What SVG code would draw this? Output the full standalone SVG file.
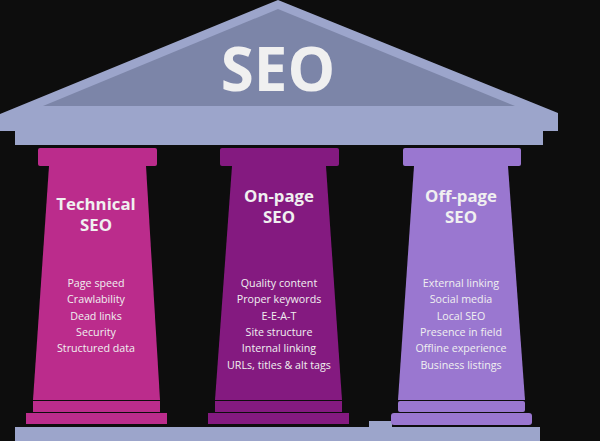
<svg xmlns="http://www.w3.org/2000/svg" width="600" height="441" viewBox="0 0 600 441">
<style>
.roof{fill:#9ca5cb}
.tri{fill:#7c85a8}
.t{font-family:"Open Sans",sans-serif;fill:#f0f0f0;text-anchor:middle}
.h{font-size:16.8px;font-weight:700}
.i{font-size:10.7px}
.a{fill:#bb2c8c}
.b{fill:#841a80}
.c{fill:#9a77d0}
</style>
<rect width="600" height="441" fill="#0d0d0d"/>
<g id="base">
<path class="roof" d="M15 427H369V421H392V427H540V441H15Z"/>
</g>
<g id="roof">
<path class="roof" d="M0 114L278 0L558 113V131H543V145H15V131H0Z"/>
<path class="tri" d="M278 9L515 106H43Z"/>
<text class="t" x="278" y="91" font-size="60" font-weight="700">SEO</text>
</g>
<g id="technical">
<rect class="a" x="38" y="148" width="119" height="18" rx="2"/>
<path class="a" d="M49 166H146L160 400H33Z"/>
<rect class="a" x="33" y="401" width="127" height="11"/>
<rect class="a" x="26" y="413" width="141" height="11"/>
<text class="t h" x="96" y="210">Technical</text>
<text class="t h" x="96" y="231">SEO</text>
<text class="t i" x="96" y="287">Page speed</text>
<text class="t i" x="96" y="303">Crawlability</text>
<text class="t i" x="96" y="320">Dead links</text>
<text class="t i" x="96" y="336">Security</text>
<text class="t i" x="96" y="352">Structured data</text>
</g>
<g id="onpage">
<rect class="b" x="220" y="148" width="119" height="18" rx="2"/>
<path class="b" d="M232 166H326L342 400H215Z"/>
<rect class="b" x="215" y="401" width="127" height="11"/>
<rect class="b" x="208" y="413" width="141" height="11"/>
<text class="t h" x="279" y="202">On-page</text>
<text class="t h" x="279" y="223">SEO</text>
<text class="t i" x="279" y="287">Quality content</text>
<text class="t i" x="279" y="303">Proper keywords</text>
<text class="t i" x="279" y="320">E-E-A-T</text>
<text class="t i" x="279" y="336">Site structure</text>
<text class="t i" x="279" y="352">Internal linking</text>
<text class="t i" x="279" y="369">URLs, titles &amp; alt tags</text>
</g>
<g id="offpage">
<rect class="c" x="403" y="148" width="118" height="18" rx="2"/>
<path class="c" d="M414 166H508L525 400H398Z"/>
<rect class="c" x="398" y="401" width="127" height="11" rx="2"/>
<rect class="c" x="391" y="413" width="141" height="12" rx="3"/>
<text class="t h" x="461" y="202">Off-page</text>
<text class="t h" x="461" y="223">SEO</text>
<text class="t i" x="461" y="287">External linking</text>
<text class="t i" x="461" y="303">Social media</text>
<text class="t i" x="461" y="320">Local SEO</text>
<text class="t i" x="461" y="336">Presence in field</text>
<text class="t i" x="461" y="352">Offline experience</text>
<text class="t i" x="461" y="369">Business listings</text>
</g>
</svg>
